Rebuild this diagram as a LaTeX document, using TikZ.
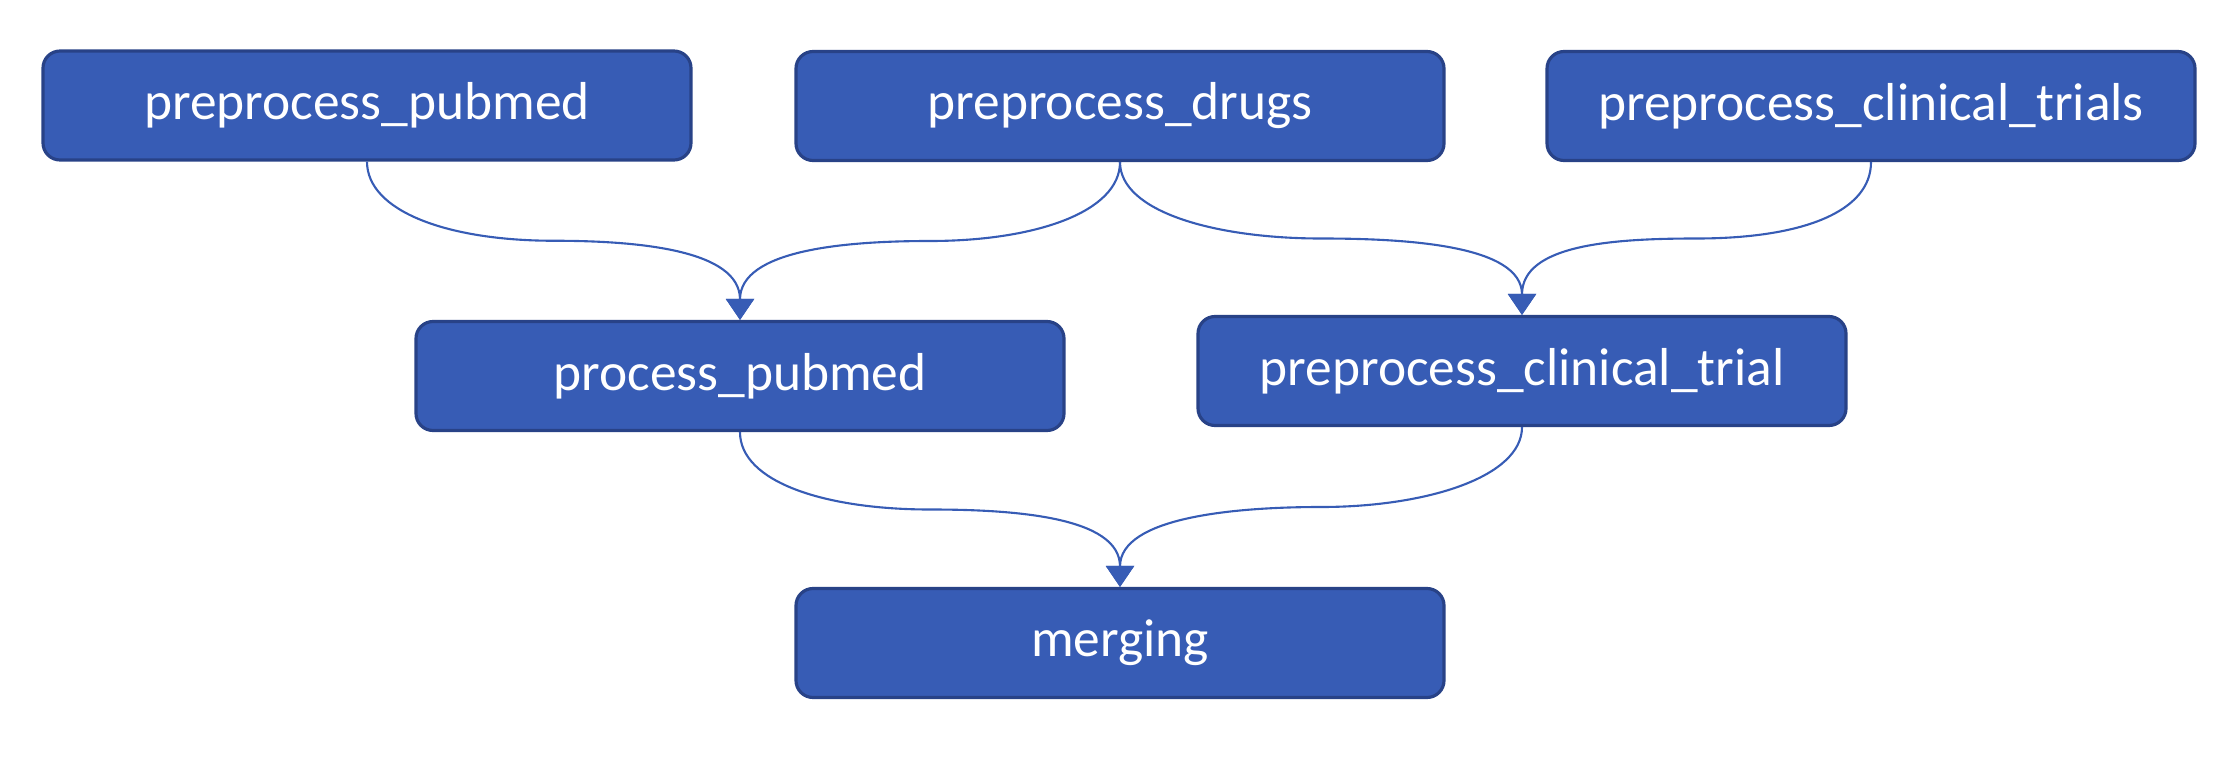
\documentclass[tikz,border=0pt]{standalone}
\usepackage{fontspec}
\setmainfont{Carlito}
\usepackage{tikz}
\usetikzlibrary{arrows.meta,calc}
\definecolor{taskblue}{RGB}{55,92,181}
\definecolor{taskedge}{RGB}{40,66,135}
\tikzstyle{task}=[draw=taskedge, fill=taskblue, line width=0.9pt, rounded corners=0.17cm, minimum width=6.48cm, minimum height=1.09cm, text=white, font=\fontsize{15.2}{18}\selectfont]
\tikzstyle{flow}=[draw=taskblue, line width=0.6pt, -{Triangle[width=0.28cm,length=0.21cm]}]

\begin{document}
\begin{tikzpicture}
\useasboundingbox (0,0) rectangle (22.34,-7.62);
\node[task] at (3.67,-1.055) (PrePubmed) {preprocess\_pubmed};
\node[task] at (11.20,-1.06) (PreDrugs) {preprocess\_drugs};
\node[task] at (18.71,-1.06) (PreTrials) {preprocess\_clinical\_trials};
\node[task] at (7.40,-3.76) (ProcPubmed) {process\_pubmed};
\node[task] at (15.22,-3.71) (PreTrial) {preprocess\_clinical\_trial};
\node[task] at (11.20,-6.43) (Merging) {merging};
% midpoints of the connectors
\coordinate (M1) at ($(PrePubmed.south)!0.5!(ProcPubmed.north)$);
\coordinate (M2) at ($(PreDrugs.south)!0.5!(ProcPubmed.north)$);
\coordinate (M3) at ($(PreDrugs.south)!0.5!(PreTrial.north)$);
\coordinate (M4) at ($(PreTrials.south)!0.5!(PreTrial.north)$);
\coordinate (M5) at ($(ProcPubmed.south)!0.5!(Merging.north)$);
\coordinate (M6) at ($(PreTrial.south)!0.5!(Merging.north)$);
\draw[flow] (PrePubmed.south) .. controls +(0,-0.5) and +(-1.05,0) .. (M1) .. controls +(0.85,0) and +(0,0.7) .. (ProcPubmed.north);
\draw[flow] (PreDrugs.south) .. controls +(0,-0.5) and +(1.05,0) .. (M2) .. controls +(-0.85,0) and +(0,0.7) .. (ProcPubmed.north);
\draw[flow] (PreDrugs.south) .. controls +(0,-0.5) and +(-1.05,0) .. (M3) .. controls +(0.85,0) and +(0,0.7) .. (PreTrial.north);
\draw[flow] (PreTrials.south) .. controls +(0,-0.5) and +(1.05,0) .. (M4) .. controls +(-0.85,0) and +(0,0.7) .. (PreTrial.north);
\draw[flow] (ProcPubmed.south) .. controls +(0,-0.5) and +(-1.05,0) .. (M5) .. controls +(0.85,0) and +(0,0.7) .. (Merging.north);
\draw[flow] (PreTrial.south) .. controls +(0,-0.5) and +(1.05,0) .. (M6) .. controls +(-0.85,0) and +(0,0.7) .. (Merging.north);
\end{tikzpicture}
\end{document}
